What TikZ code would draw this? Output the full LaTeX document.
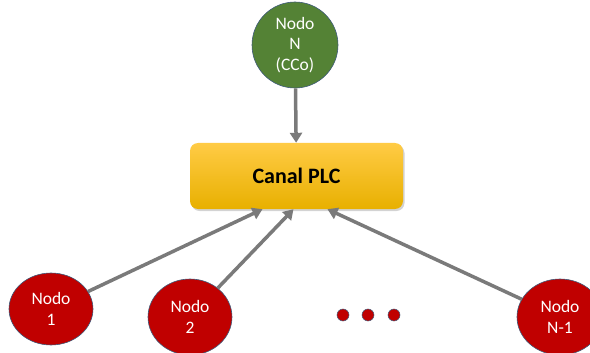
\documentclass[tikz,border=0pt]{standalone}
\usepackage{fontspec}
\setmainfont{Carlito}
\usetikzlibrary{shapes.geometric,arrows.meta,shadows}
\definecolor{nodegreen}{HTML}{548235}
\definecolor{nodered}{HTML}{C00000}
\definecolor{edgeblue}{HTML}{3E5A7A}
\definecolor{arrgray}{HTML}{7A7A7A}
\definecolor{boxtop}{HTML}{FFCB45}
\definecolor{boxbot}{HTML}{E8B000}
\tikzset{
  nodo/.style={ellipse, draw=edgeblue, line width=0.6pt, text=white, align=center,
    font=\fontsize{17.5}{20.5}\selectfont, inner sep=0pt},
  canal/.style={rounded corners=8pt, minimum width=213pt, minimum height=66pt,
    top color=boxtop, bottom color=boxbot, draw=none,
    drop shadow={shadow xshift=1.5pt, shadow yshift=-2pt, opacity=0.35},
    font=\fontsize{22}{24}\selectfont\bfseries},
  arr/.style={draw=arrgray, line width=3.5pt, -{Triangle[length=10pt,width=12pt]}},
  punto/.style={circle, fill=nodered, draw=edgeblue, line width=0.5pt, minimum size=12pt, inner sep=0pt}
}
\begin{document}
\begin{tikzpicture}[x=1pt,y=-1pt]
\useasboundingbox (0,0) rectangle (590,353);
\node[nodo, fill=nodegreen, minimum width=86pt, minimum height=86pt] (nN) at (295,45) {Nodo\\N\\(CCo)};
\node[canal] (box) at (296.5,176) {Canal PLC};
\node[nodo, fill=nodered, minimum width=84pt, minimum height=72pt] (n1) at (51,309) {Nodo\\1};
\node[nodo, fill=nodered, minimum width=84pt, minimum height=76pt] (n2) at (190,317) {Nodo\\2};
\node[nodo, fill=nodered, minimum width=86pt, minimum height=76pt] (nN1) at (560,317) {Nodo\\N-1};
\node[punto] (d1) at (343,315) {};
\node[punto] (d2) at (368,315) {};
\node[punto] (d3) at (394,315) {};
\draw[arr] (nN) -- (box);
\draw[arr] (n1) -- ([xshift=-34pt]box.south);
\draw[arr] (n2) -- ([xshift=-3pt]box.south);
\draw[arr] (nN1) -- ([xshift=31pt]box.south);
\end{tikzpicture}
\end{document}
